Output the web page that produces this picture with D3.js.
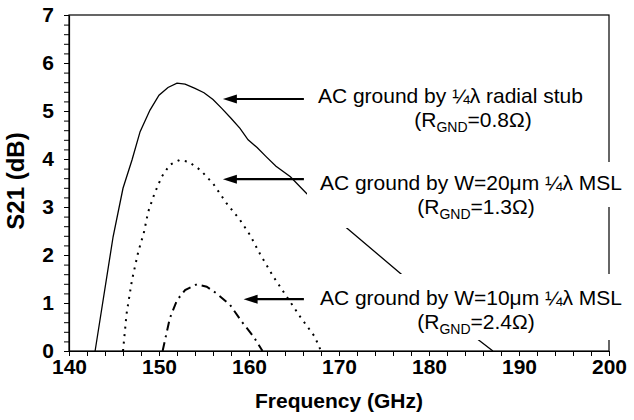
<!DOCTYPE html>
<html>
<head>
<meta charset="utf-8">
<script src="https://cdn.jsdelivr.net/npm/d3@7"></script>
<style>
  body { margin: 0; background: #fff; }
  svg { font-family: "Liberation Sans", Arial, sans-serif; }
</style>
</head>
<body>
<div id="chart"></div>
<script>
// values (GHz, dB)
var freqStub = [142.9, 144.9, 146.0, 147.0, 147.9, 149.0, 150.0, 151.0, 152.0, 152.9, 154.0, 155.0, 156.0, 157.0, 158.0, 159.0, 159.9, 160.9, 161.9, 163.0, 164.6, 166.4, 170.5, 176.8, 185.3, 187.1];
var s21Stub  = [0, 2.38, 3.39, 3.98, 4.57, 5.02, 5.33, 5.49, 5.58, 5.56, 5.47, 5.38, 5.24, 5.05, 4.85, 4.64, 4.40, 4.24, 4.05, 3.85, 3.63, 3.28, 2.62, 1.62, 0.26, 0];

var freqW20 = [146.0, 146.4, 147.0, 147.7, 148.3, 148.8, 149.5, 150.3, 151.2, 152.3, 153.3, 154.6, 156.0, 157.5, 159.0, 160.1, 161.2, 162.7, 164.2, 165.7, 167.3, 168.0];
var s21W20  = [0, 0.78, 1.48, 2.07, 2.45, 2.90, 3.28, 3.63, 3.88, 3.98, 3.94, 3.77, 3.49, 3.08, 2.73, 2.42, 2.03, 1.55, 1.13, 0.71, 0.30, 0];

var freqW10 = [150.4, 151.2, 152.0, 152.9, 154.2, 155.3, 156.4, 157.9, 159.2, 160.5, 161.5];
var s21W10  = [0, 0.68, 1.06, 1.27, 1.39, 1.34, 1.20, 0.96, 0.61, 0.30, 0];

var xDomain = [140, 200];
var yDomain = [0, 7];

// arrows: tip freq, tail freq, S21 level
var arrowTips  = [157.1, 157.1, 159.4];
var arrowTails = [166.1, 166.1, 166.1];
var arrowLevel = [5.25, 3.58, 1.08];
var labelMain = ["AC ground by \u00BC\u03BB radial stub", "AC ground by W=20\u03BCm \u00BC\u03BB MSL", "AC ground by W=10\u03BCm \u00BC\u03BB MSL"];
var labelR    = ["0.8", "1.3", "2.4"];

var margin = {top: 15, right: 25, bottom: 69, left: 69},
    width = 634 - margin.left - margin.right,
    height = 420 - margin.top - margin.bottom;

var svg = d3.select("#chart")
  .append("svg")
    .attr("width", 634)
    .attr("height", 420)
  .append("g")
    .attr("transform", "translate(" + margin.left + "," + margin.top + ")");

var x = d3.scaleLinear().domain(xDomain).range([0, width]);
var y = d3.scaleLinear().domain(yDomain).range([height, 0]);

// frame
svg.append("rect")
  .attr("width", width).attr("height", height)
  .attr("fill", "none").attr("stroke", "#000").attr("stroke-width", 1.2);

// curves
var line = d3.line()
  .x(function(d) { return x(d[0]); })
  .y(function(d) { return y(d[1]); });

function pairs(f, s) { return f.map(function(v, i) { return [v, s[i]]; }); }

svg.append("path").datum(pairs(freqStub, s21Stub))
  .attr("d", line).attr("fill", "none").attr("stroke", "#000").attr("stroke-width", 1.3);
svg.append("path").datum(pairs(freqW20, s21W20))
  .attr("d", line).attr("fill", "none").attr("stroke", "#000").attr("stroke-width", 2)
  .attr("stroke-dasharray", "2,5.5");
svg.append("path").datum(pairs(freqW10, s21W10))
  .attr("d", line).attr("fill", "none").attr("stroke", "#000").attr("stroke-width", 2)
  .attr("stroke-dasharray", "9,5,2,5");

// white label boxes (they hide parts of curves and the right border)
svg.append("rect").attr("x", 238).attr("y", 147).attr("width", 340).attr("height", 45).attr("fill", "#fff");
svg.append("rect").attr("x", 238).attr("y", 192).attr("width", 240).attr("height", 21).attr("fill", "#fff");
svg.append("rect").attr("x", 246).attr("y", 259).attr("width", 330).attr("height", 66).attr("fill", "#fff");

// axes
var yAxis = d3.axisLeft(y)
  .tickValues(d3.range(0, 7.01, 0.2))
  .tickSize(5).tickSizeOuter(0).tickPadding(10)
  .tickFormat(function(d) { return Math.abs(d - Math.round(d)) < 1e-6 ? Math.round(d) : ""; });
var xAxis = d3.axisBottom(x)
  .tickValues(d3.range(140, 200.01, 2))
  .tickSize(5).tickSizeOuter(0).tickPadding(3)
  .tickFormat(function(d) { return d % 10 === 0 ? d : ""; });

var gy = svg.append("g").call(yAxis);
var gx = svg.append("g").attr("transform", "translate(0," + height + ")").call(xAxis);
[gx, gy].forEach(function(g) {
  g.select(".domain").attr("stroke", "#000").attr("stroke-width", 1.2);
  g.selectAll(".tick line").attr("stroke", "#000").attr("stroke-width", 1);
  g.selectAll(".tick text").attr("fill", "#000")
    .style("font-family", "'Liberation Sans', Arial, sans-serif")
    .style("font-size", "21px").style("font-weight", "bold");
});

// axis titles
svg.append("text")
  .attr("x", width / 2).attr("y", height + 57)
  .attr("text-anchor", "middle")
  .style("font-size", "21px").style("font-weight", "bold")
  .text("Frequency (GHz)");
svg.append("text")
  .attr("transform", "translate(" + (-45) + "," + (height / 2 - 2) + ") rotate(-90)")
  .attr("text-anchor", "middle")
  .style("font-size", "24px").style("font-weight", "bold")
  .text("S21 (dB)");

// arrows
arrowTips.forEach(function(t, i) {
  var tx = x(t), ty = y(arrowLevel[i]);
  svg.append("line")
    .attr("x1", tx + 10).attr("x2", x(arrowTails[i]))
    .attr("y1", ty).attr("y2", ty)
    .attr("stroke", "#000").attr("stroke-width", 2.2);
  svg.append("path")
    .attr("d", "M" + tx + "," + ty + "L" + (tx + 14) + "," + (ty - 4.5) + "L" + (tx + 14) + "," + (ty + 4.5) + "Z")
    .attr("fill", "#000");
});

// labels
var labelDX = [14, 16, 16];
var labelDY = [4, 11, 6];
var rCenter = [404, 407, 407];
labelMain.forEach(function(t, i) {
  var bx = x(arrowTails[i]) + labelDX[i];
  var by = y(arrowLevel[i]) + labelDY[i];
  svg.append("text").attr("x", bx).attr("y", by)
    .style("font-size", "21px").text(t);
  var r = svg.append("text").attr("x", rCenter[i]).attr("y", by + 24)
    .attr("text-anchor", "middle").style("font-size", "21px");
  r.append("tspan").text("(R");
  r.append("tspan").attr("dy", 5).style("font-size", "14px").text("GND");
  r.append("tspan").attr("dy", -5).text("=" + labelR[i] + "\u03A9)");
});
</script>
</body>
</html>
